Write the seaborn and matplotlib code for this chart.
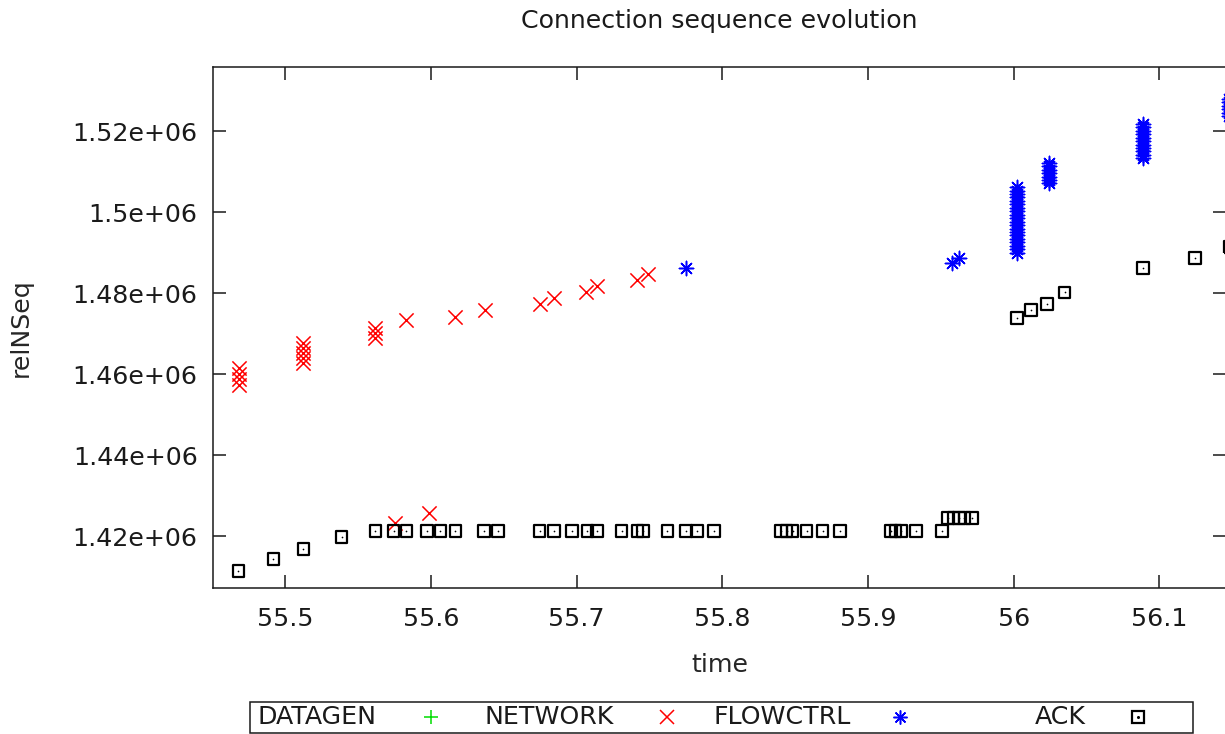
import numpy as np
import pandas as pd
import matplotlib
matplotlib.use("Agg")
import matplotlib.pyplot as plt
import seaborn as sns
from matplotlib.lines import Line2D
from matplotlib.patches import Rectangle
from matplotlib.ticker import FormatStrFormatter

# ---------------- data ----------------
title = "Connection sequence evolution"
x_label = "time"
y_label = "relNSeq"
series_names = ["DATAGEN", "NETWORK", "FLOWCTRL", "ACK"]
series_colors = ["#00dd00", "#ff0000", "#0000ff", "#000000"]

datagen_time = []
datagen_seq = []

network_time = [55.4684, 55.4684, 55.4684, 55.4684,
                55.5126, 55.5126, 55.5126, 55.5126, 55.5126,
                55.5619, 55.5619, 55.5619,
                55.5756, 55.5832, 55.5990, 55.6168, 55.6375, 55.6746,
                55.6844, 55.7062, 55.7142, 55.7417, 55.7490]
network_seq = [1461530, 1460050, 1458810, 1457330,
               1467700, 1466500, 1465200, 1464000, 1462800,
               1471420, 1470180, 1468950,
               1423140, 1473400, 1425610, 1474210, 1475870, 1477280,
               1478760, 1480240, 1481800, 1483280, 1484690]

flowctrl_time = [55.7749, 55.9577, 55.9623,
                 56.0024, 56.0024, 56.0024, 56.0024, 56.0024, 56.0024, 56.0024,
                 56.0024, 56.0024, 56.0024, 56.0024, 56.0024, 56.0024, 56.0024,
                 56.0024, 56.0024, 56.0024, 56.0024, 56.0024, 56.0024,
                 56.0239, 56.0239, 56.0239, 56.0239, 56.0239, 56.0239, 56.0239,
                 56.0888, 56.0888, 56.0888, 56.0888, 56.0888, 56.0888,
                 56.0888, 56.0888, 56.0888, 56.0888, 56.0888,
                 56.1481, 56.1481, 56.1481, 56.1481, 56.1481, 56.1481]
flowctrl_seq = [1486180, 1487410, 1488650,
                1506300, 1505400, 1504600, 1503700, 1502900, 1502000, 1501100,
                1500300, 1499400, 1498600, 1497700, 1496900, 1496000, 1495100,
                1494300, 1493400, 1492600, 1491700, 1490900, 1490000,
                1512200, 1511400, 1510500, 1509700, 1508800, 1508000, 1507300,
                1521800, 1521000, 1520100, 1519300, 1518400, 1517600,
                1516700, 1515900, 1515100, 1514200, 1513400,
                1528000, 1527200, 1526300, 1525500, 1524600, 1523800]

ack_time = [55.4680, 55.4920, 55.5126, 55.5387,
            55.5619, 55.5744, 55.5832, 55.5974, 55.6065, 55.6168, 55.6363,
            55.6459, 55.6746, 55.6844, 55.6970, 55.7074, 55.7142, 55.7309,
            55.7417, 55.7456, 55.7623, 55.7749, 55.7825, 55.7942, 55.8402,
            55.8441, 55.8482, 55.8579, 55.8689, 55.8808, 55.9158, 55.9188,
            55.9227, 55.9330, 55.9507,
            55.9548, 55.9586, 55.9623, 55.9662, 55.9713,
            56.0022, 56.0120, 56.0228, 56.0349, 56.0888, 56.1243, 56.1481]
ack_seq = [1411420, 1414390, 1416860, 1419830,
           1421310, 1421310, 1421310, 1421310, 1421310, 1421310, 1421310,
           1421310, 1421310, 1421310, 1421310, 1421310, 1421310, 1421310,
           1421310, 1421310, 1421310, 1421310, 1421310, 1421310, 1421310,
           1421310, 1421310, 1421310, 1421310, 1421310, 1421310, 1421310,
           1421310, 1421310, 1421310,
           1424380, 1424380, 1424380, 1424380, 1424380,
           1473820, 1475870, 1477280, 1480240, 1486180, 1488650, 1491520]

x_ticks = [55.5, 55.6, 55.7, 55.8, 55.9, 56.0, 56.1]
y_ticks = [1420000, 1440000, 1460000, 1480000, 1500000, 1520000]
x_range = (55.4505, 56.1457)
y_range = (1407150, 1535940)

# ---------------- style ----------------
sns.set_style("ticks")
plt.rcParams["font.family"] = ["DejaVu Sans"]
plt.rcParams["text.color"] = "#1a1a1a"
FS = 18.2

W, H = 1225, 734
fig = plt.figure(figsize=(W / 100, H / 100), dpi=100)
fig.patch.set_facecolor("white")
ax = fig.add_axes([213 / W, 1 - 588 / H, (1226 - 213) / W, (588 - 67) / H])
ax.set_facecolor("white")

marker_star = (8, 2, 0)

def draw(times, seqs, **kw):
    if len(times) == 0:
        return
    df = pd.DataFrame({"time": times, "seq": seqs})
    sns.scatterplot(data=df, x="time", y="seq", ax=ax, legend=False, **kw)

draw(datagen_time, datagen_seq, marker="+", color=series_colors[0], s=105, linewidth=1.1)
draw(network_time, network_seq, marker="x", color=series_colors[1], s=105, linewidth=1.1)
draw(flowctrl_time, flowctrl_seq, marker=marker_star, color=series_colors[2], s=105, linewidth=1.1)
draw(ack_time, ack_seq, marker="s", facecolor="none", edgecolor=series_colors[3], s=70, linewidth=1.6)
draw(ack_time, ack_seq, marker="o", color=series_colors[3], s=1.5, linewidth=0)

ax.set_xlim(*x_range)
ax.set_ylim(*y_range)
ax.set_xticks(x_ticks)
ax.set_yticks(y_ticks)
ax.xaxis.set_major_formatter(FormatStrFormatter("%g"))
ax.yaxis.set_major_formatter(FormatStrFormatter("%g"))
ax.tick_params(direction="in", length=9.4, width=1.1, top=True, right=True,
               labelsize=FS, colors="#1a1a1a", pad=11)
ax.tick_params(axis="x", pad=14)
for sp in ax.spines.values():
    sp.set_visible(True)
    sp.set_linewidth(1.1)
    sp.set_color("#1a1a1a")

ax.set_xlabel(x_label, fontsize=FS)
ax.set_ylabel(y_label, fontsize=FS)
ax.xaxis.set_label_coords(0.5, (588 - 653) / 521)
ax.yaxis.set_label_coords((33 - 213) / 1013, 0.5)
ax.set_title(title, fontsize=FS, pad=28)

# ---------------- legend (gnuplot style key) ----------------
box = Rectangle((250 / W, 1 - 733 / H), (1193 - 250) / W, (733 - 702) / H,
                transform=fig.transFigure, fill=False, edgecolor="#1a1a1a",
                linewidth=1.1)
fig.add_artist(box)
text_right = [376, 614, 851, 1086]
marker_x = [431, 667, 900, 1138]
leg_markers = ["+", "x", marker_star, "s"]
ky = 1 - 717 / H
for name, col, mk, tx, mx in zip(series_names, series_colors, leg_markers,
                                 text_right, marker_x):
    fig.text(tx / W, ky, name, ha="right", va="center", fontsize=FS)
    if mk == "s":
        fig.add_artist(Line2D([mx / W], [ky], marker="s", markersize=8.2,
                              markerfacecolor="none", markeredgecolor=col,
                              markeredgewidth=1.6, linestyle="none",
                              transform=fig.transFigure))
        fig.add_artist(Line2D([mx / W], [ky], marker="o", markersize=1.2,
                              color=col, linestyle="none",
                              transform=fig.transFigure))
    else:
        fig.add_artist(Line2D([mx / W], [ky], marker=mk, markersize=10,
                              markeredgewidth=1.1, color=col, linestyle="none",
                              transform=fig.transFigure))

fig.savefig("out.png", dpi=100, facecolor="white")
